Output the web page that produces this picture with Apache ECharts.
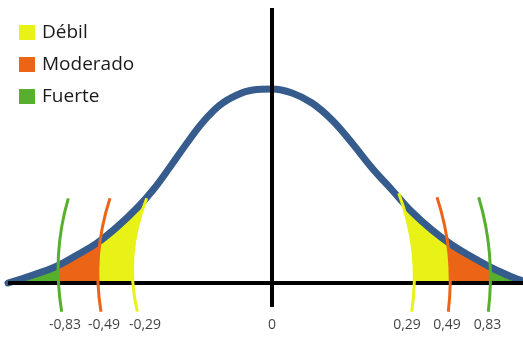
<!DOCTYPE html>
<html>
<head>
<meta charset="utf-8">
<script src="https://cdn.jsdelivr.net/npm/echarts@6/dist/echarts.min.js"></script>
<style>
html,body{margin:0;padding:0;background:#fff;}
#chart{width:523px;height:337px;}
</style>
</head>
<body>
<div id="chart"></div>
<script>
// Bell curve: [position, height]
var curveData = [
  [-2.64, 0.00], [-2.39, 0.08], [-2.17, 0.16], [-1.95, 0.28], [-1.75, 0.40],
  [-1.55, 0.56], [-1.35, 0.75], [-1.19, 0.93], [-1.02, 1.16], [-0.85, 1.40],
  [-0.69, 1.61], [-0.52, 1.78], [-0.35, 1.88], [-0.19, 1.93], [0.00, 1.94],
  [0.20, 1.90], [0.40, 1.80], [0.60, 1.63], [0.80, 1.40], [1.00, 1.15],
  [1.20, 0.93], [1.40, 0.71], [1.60, 0.53], [1.80, 0.38], [2.00, 0.26],
  [2.20, 0.15], [2.40, 0.06], [2.51, 0.02]
];
// Boundary arcs: [top, middle, bottom] points, side (-1 left, 1 right)
var arcsDebil = [
  {pts: [[-1.253, 0.847], [-1.39, 0.28], [-1.347, -0.287]], side: -1},
  {pts: [[1.267, 0.897], [1.41, 0.31], [1.397, -0.287]], side: 1}
];
var arcsModerado = [
  {pts: [[-1.62, 0.847], [-1.735, 0.28], [-1.71, -0.287]], side: -1},
  {pts: [[1.65, 0.857], [1.77, 0.29], [1.763, -0.287]], side: 1}
];
var arcsFuerte = [
  {pts: [[-2.037, 0.847], [-2.135, 0.285], [-2.103, -0.287]], side: -1},
  {pts: [[2.067, 0.857], [2.175, 0.29], [2.163, -0.287]], side: 1}
];
var tickLabels = ['-0,83', '-0,49', '-0,29', '0', '0,29', '0,49', '0,83'];
var tickPositions = [-2.07, -1.68, -1.27, 0.0, 1.35, 1.75, 2.155];
var categories = ['Débil', 'Moderado', 'Fuerte'];

var colors = {'Débil': '#E8F217', 'Moderado': '#EC6516', 'Fuerte': '#56AF2D'};
var X_MIN = -2.64, X_MAX = 2.51, Y_MIN = -0.54, Y_MAX = 2.75;

function bez(api, arc) {
  var p0 = api.coord(arc.pts[0]);
  var m = api.coord(arc.pts[1]);
  var p2 = api.coord(arc.pts[2]);
  var c = [2 * m[0] - (p0[0] + p2[0]) / 2, 2 * m[1] - (p0[1] + p2[1]) / 2];
  return {p0: p0, c: c, p2: p2};
}

function fillSeries(name, arcs, z) {
  return {
    type: 'custom', name: name, z: z, silent: true,
    itemStyle: {color: colors[name]},
    data: arcs.map(function (a) { return a.pts[0]; }),
    renderItem: function (params, api) {
      var arc = arcs[params.dataIndex];
      var b = bez(api, arc);
      var edgeX = api.coord([arc.side < 0 ? X_MIN : X_MAX, 0])[0];
      var d = 'M' + edgeX + ' ' + b.p0[1] +
              ' L' + b.p0[0] + ' ' + b.p0[1] +
              ' Q' + b.c[0] + ' ' + b.c[1] + ' ' + b.p2[0] + ' ' + b.p2[1] +
              ' L' + edgeX + ' ' + b.p2[1] + ' Z';
      return {type: 'path', shape: {pathData: d}, style: {fill: colors[name], stroke: null}};
    }
  };
}

function arcSeries(name, arcs) {
  return {
    type: 'custom', name: name + '_arc', z: 6, silent: true,
    data: arcs.map(function (a) { return a.pts[0]; }),
    renderItem: function (params, api) {
      var b = bez(api, arcs[params.dataIndex]);
      return {
        type: 'bezierCurve',
        shape: {x1: b.p0[0], y1: b.p0[1], x2: b.p2[0], y2: b.p2[1], cpx1: b.c[0], cpy1: b.c[1]},
        style: {stroke: colors[name], lineWidth: 3, fill: null, lineCap: 'butt'}
      };
    }
  };
}

var chart = echarts.init(document.getElementById('chart'), null, {renderer: 'canvas'});
var option = {
  animation: false,
  backgroundColor: '#fff',
  grid: {left: 8, right: 0, top: 8, bottom: 0},
  xAxis: {type: 'value', min: X_MIN, max: X_MAX, show: false},
  yAxis: {type: 'value', min: Y_MIN, max: Y_MAX, show: false},
  legend: {
    z: 20,
    orient: 'vertical', left: 14, top: 18,
    itemWidth: 16, itemHeight: 15, itemGap: 13,
    textStyle: {fontFamily: 'Open Sans', fontSize: 19, color: '#1a1a1a', lineHeight: 19, padding: [0, 0, 0, 2]},
    data: categories.map(function (c) { return {name: c, icon: 'rect', itemStyle: {color: colors[c]}}; }),
    selectedMode: false
  },
  series: [
    fillSeries('Débil', arcsDebil, 1),
    fillSeries('Moderado', arcsModerado, 2),
    fillSeries('Fuerte', arcsFuerte, 3),
    {
      type: 'line', name: 'maskTop', z: 4, silent: true, data: curveData, smooth: 0.4,
      symbol: 'none', lineStyle: {width: 0, color: '#fff'},
      areaStyle: {color: '#fff', opacity: 1, origin: 'end'}
    },
    {
      type: 'line', name: 'maskBottom', z: 4, silent: true, data: [[X_MIN, 0], [X_MAX, 0]],
      symbol: 'none', lineStyle: {width: 0, color: '#fff'},
      areaStyle: {color: '#fff', opacity: 1, origin: 'start'}
    },
    {
      type: 'line', name: 'curve', z: 5, silent: true, data: curveData, smooth: 0.4,
      symbol: 'none', lineStyle: {width: 7, color: '#355C8C', cap: 'round'}
    },
    {
      type: 'line', name: 'hAxis', z: 5, silent: true, data: [[X_MIN, 0], [X_MAX, 0]],
      symbol: 'none', lineStyle: {width: 4, color: '#000'}
    },
    arcSeries('Débil', arcsDebil),
    arcSeries('Moderado', arcsModerado),
    arcSeries('Fuerte', arcsFuerte),
    {
      type: 'line', name: 'vAxis', z: 7, silent: true, data: [[0, Y_MAX], [0, -0.24]],
      symbol: 'none', lineStyle: {width: 4, color: '#000'}
    },
    {
      type: 'scatter', name: 'ticks', z: 8, silent: true, symbolSize: 0,
      data: tickPositions.map(function (x, i) { return [x, -0.425, tickLabels[i]]; }),
      label: {
        show: true, position: 'inside', color: '#111',
        fontFamily: 'Open Sans', fontSize: 14,
        formatter: function (p) { return p.data[2]; }
      }
    }
  ]
};
chart.setOption(option);
</script>
</body>
</html>
